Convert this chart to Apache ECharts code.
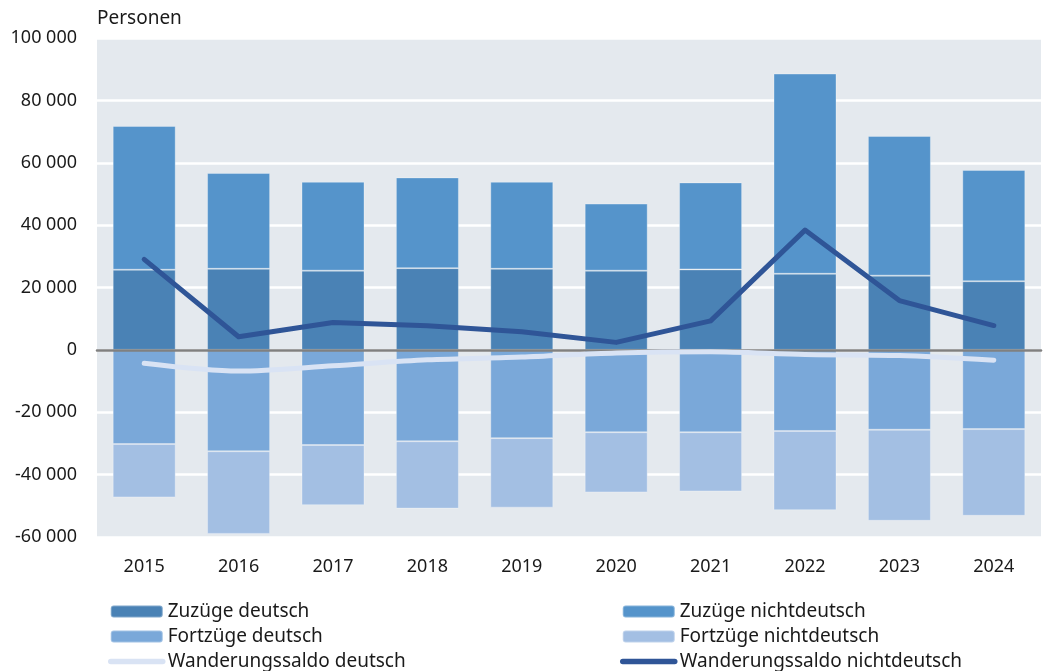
<!DOCTYPE html>
<html>
<head>
<meta charset="utf-8">
<script src="https://cdn.jsdelivr.net/npm/echarts@6/dist/echarts.min.js"></script>
<style>
  html, body { margin: 0; padding: 0; background: #fff; }
  #chart { width: 1047px; height: 671px; }
</style>
</head>
<body>
<div id="chart"></div>
<script>
// Jahre
const years = ['2015', '2016', '2017', '2018', '2019', '2020', '2021', '2022', '2023', '2024'];

// Zuzüge / Fortzüge (Personen)
const zuzuegeDeutsch = [25700, 26000, 25400, 26200, 26000, 25400, 25800, 24400, 23800, 22000];
const zuzuegeNichtdeutsch = [46100, 30700, 28500, 29100, 27900, 21500, 27900, 64200, 44800, 35700];
const fortzuegeDeutsch = [-30200, -32500, -30500, -29300, -28300, -26400, -26400, -26000, -25600, -25400];
const fortzuegeNichtdeutsch = [-17100, -26500, -19300, -21600, -22300, -19300, -19000, -25400, -29200, -27800];

// Wanderungssaldo
const saldoDeutsch = [-4300, -6800, -5100, -3200, -2300, -1000, -600, -1500, -1800, -3300];
const saldoNichtdeutsch = [29000, 4200, 8800, 7700, 5800, 2400, 9300, 38400, 15800, 7800];

const FONT = '"Noto Sans", "Open Sans", sans-serif';

function fmt(v) {
  const s = Math.abs(v).toString().replace(/\B(?=(\d{3})+(?!\d))/g, ' ');
  return (v < 0 ? '-' : '') + s;
}

const chart = echarts.init(document.getElementById('chart'));

const barBorder = { borderColor: 'rgba(255,255,255,0.3)', borderWidth: 1 };

// Linien in der Legende ohne Punkt, aber dick
function lineItem(name) {
  return {
    name: name,
    itemStyle: { opacity: 0, color: 'transparent', borderWidth: 0 },
    lineStyle: { width: 5.5, cap: 'round' }
  };
}

const legendBase = {
  orient: 'vertical',
  top: 602,
  height: 100,
  padding: 0,
  itemWidth: 52,
  itemHeight: 12,
  itemGap: 6,
  textStyle: { fontSize: 19, lineHeight: 19, color: '#1a1a1a', fontFamily: FONT }
};

const option = {
  animation: false,
  textStyle: { fontFamily: FONT },
  title: {
    text: 'Personen',
    left: 97,
    top: 9,
    padding: 0,
    textStyle: { fontSize: 19, fontWeight: 'normal', color: '#1a1a1a', fontFamily: FONT }
  },
  grid: {
    left: 97,
    top: 38,
    right: 6,
    bottom: 134,
    show: true,
    backgroundColor: '#E4E9EE',
    borderWidth: 0
  },
  legend: [
    Object.assign({}, legendBase, {
      left: 108,
      data: ['Zuzüge deutsch', 'Fortzüge deutsch', lineItem('Wanderungssaldo deutsch')]
    }),
    Object.assign({}, legendBase, {
      left: 620,
      data: ['Zuzüge nichtdeutsch', 'Fortzüge nichtdeutsch', lineItem('Wanderungssaldo nichtdeutsch')]
    })
  ],
  xAxis: {
    type: 'category',
    data: years,
    z: 3,
    axisLine: { show: true, onZero: true, lineStyle: { color: '#808080', width: 2.5 } },
    axisTick: { show: false },
    axisLabel: {
      fontSize: 18,
      color: '#1a1a1a',
      fontFamily: FONT,
      margin: 21
    }
  },
  yAxis: {
    type: 'value',
    min: -60000,
    max: 100000,
    interval: 20000,
    axisLine: { show: false },
    axisTick: { show: false },
    splitLine: { show: true, lineStyle: { color: '#ffffff', width: 2.5 } },
    axisLabel: {
      fontSize: 18,
      color: '#1a1a1a',
      fontFamily: FONT,
      margin: 20,
      formatter: fmt
    }
  },
  series: [
    {
      name: 'Zuzüge deutsch',
      type: 'bar',
      stack: 'wanderung',
      barWidth: 63,
      itemStyle: Object.assign({ color: '#4A82B5' }, barBorder),
      data: zuzuegeDeutsch
    },
    {
      name: 'Zuzüge nichtdeutsch',
      type: 'bar',
      stack: 'wanderung',
      barWidth: 63,
      itemStyle: Object.assign({ color: '#5594CB' }, barBorder),
      data: zuzuegeNichtdeutsch
    },
    {
      name: 'Fortzüge deutsch',
      type: 'bar',
      stack: 'wanderung',
      barWidth: 63,
      itemStyle: Object.assign({ color: '#7AA8D9' }, barBorder),
      data: fortzuegeDeutsch
    },
    {
      name: 'Fortzüge nichtdeutsch',
      type: 'bar',
      stack: 'wanderung',
      barWidth: 63,
      itemStyle: Object.assign({ color: '#A3BFE3' }, barBorder),
      data: fortzuegeNichtdeutsch
    },
    {
      name: 'Wanderungssaldo deutsch',
      type: 'line',
      symbol: 'none',
      smooth: 0.3,
      z: 4,
      itemStyle: { color: '#D9E3F4' },
      lineStyle: { color: '#D9E3F4', width: 5, cap: 'round', join: 'round' },
      data: saldoDeutsch
    },
    {
      name: 'Wanderungssaldo nichtdeutsch',
      type: 'line',
      symbol: 'none',
      z: 4,
      itemStyle: { color: '#2F5597' },
      lineStyle: { color: '#2F5597', width: 5, cap: 'round', join: 'round' },
      data: saldoNichtdeutsch
    }
  ]
};

chart.setOption(option);
</script>
</body>
</html>
